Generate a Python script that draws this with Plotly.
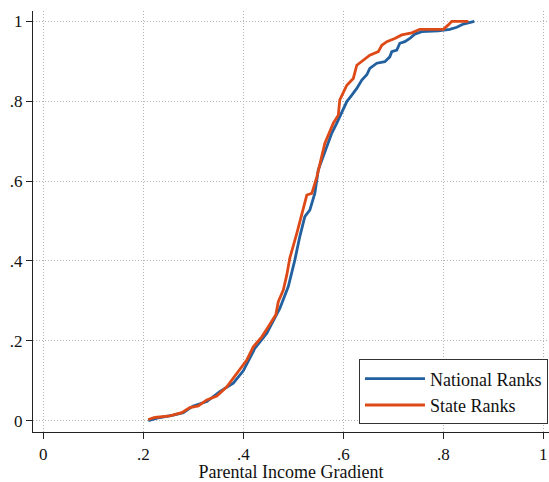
import plotly.graph_objects as go

national_x = [0.21, 0.233, 0.26, 0.28, 0.30, 0.327, 0.353, 0.38, 0.40, 0.423, 0.447, 0.473,
              0.49, 0.503, 0.513, 0.523, 0.533, 0.543, 0.55, 0.56, 0.57, 0.577, 0.587, 0.597,
              0.607, 0.617, 0.627, 0.637, 0.647, 0.653, 0.667, 0.683, 0.693, 0.697, 0.707,
              0.713, 0.723, 0.733, 0.743, 0.757, 0.79, 0.813, 0.827, 0.84, 0.862]
national_y = [0.0, 0.008, 0.014, 0.02, 0.037, 0.048, 0.073, 0.094, 0.125, 0.181, 0.219, 0.281,
              0.336, 0.402, 0.461, 0.511, 0.527, 0.569, 0.628, 0.661, 0.694, 0.72, 0.745, 0.774,
              0.799, 0.815, 0.832, 0.853, 0.866, 0.882, 0.895, 0.899, 0.911, 0.924, 0.928,
              0.945, 0.949, 0.957, 0.968, 0.974, 0.976, 0.98, 0.985, 0.993, 1.0]

state_x = [0.21, 0.223, 0.253, 0.277, 0.293, 0.31, 0.327, 0.347, 0.367, 0.387, 0.407, 0.42,
           0.437, 0.45, 0.465, 0.47, 0.48, 0.487, 0.493, 0.507, 0.517, 0.527, 0.537, 0.547,
           0.563, 0.58, 0.59, 0.593, 0.607, 0.62, 0.627, 0.64, 0.653, 0.67, 0.677, 0.687,
           0.703, 0.717, 0.737, 0.753, 0.80, 0.81, 0.817, 0.85]
state_y = [0.003, 0.008, 0.012, 0.02, 0.033, 0.037, 0.052, 0.062, 0.085, 0.119, 0.152, 0.185,
           0.21, 0.235, 0.265, 0.298, 0.327, 0.365, 0.407, 0.469, 0.519, 0.565, 0.569, 0.61,
           0.694, 0.745, 0.765, 0.803, 0.84, 0.857, 0.89, 0.903, 0.915, 0.924, 0.94, 0.949,
           0.957, 0.966, 0.971, 0.98, 0.98, 0.991, 1.0, 1.0]

tick_vals = [0, 0.2, 0.4, 0.6, 0.8, 1]
tick_text = ["0", ".2", ".4", ".6", ".8", "1"]

BLUE = "#22609f"
ORANGE = "#de4a17"
FONT = "Liberation Serif"
FS = 18

fig = go.Figure()
fig.add_trace(go.Scatter(x=national_x, y=national_y, mode="lines", name="National Ranks",
                         line=dict(color=BLUE, width=2.8)))
fig.add_trace(go.Scatter(x=state_x, y=state_y, mode="lines", name="State Ranks",
                         line=dict(color=ORANGE, width=2.8)))

axis_common = dict(
    tickvals=tick_vals, ticktext=tick_text, automargin=False,
    showgrid=True, gridcolor="#b4b4b4", griddash="1px,2px", gridwidth=1,
    zeroline=False, showline=True, linecolor="#222222", linewidth=1.3,
    ticks="outside", ticklen=6, tickwidth=1.3, tickcolor="#222222",
    tickfont=dict(family=FONT, size=17, color="#111111"),
)

fig.update_layout(
    width=549, height=482,
    margin=dict(l=33, r=0, t=11, b=50),
    paper_bgcolor="white", plot_bgcolor="white",
    font=dict(family=FONT, size=FS, color="#111111"),
    xaxis=dict(range=[-0.0206, 1.0114],
               title=dict(text="Parental Income Gradient", standoff=3,
                          font=dict(family=FONT, size=FS)),
               **axis_common),
    yaxis=dict(range=[-0.0283, 1.0258], **axis_common),
    legend=dict(x=0.998, y=0.018, xanchor="right", yanchor="bottom",
                bordercolor="#333333", borderwidth=1, bgcolor="white",
                font=dict(family=FONT, size=FS), itemwidth=60,
                tracegroupgap=0),
    showlegend=True,
)

fig.write_html("out.html",
               config={"displayModeBar": False},
               post_script="document.body.style.margin='0';document.body.style.overflow='hidden';")
